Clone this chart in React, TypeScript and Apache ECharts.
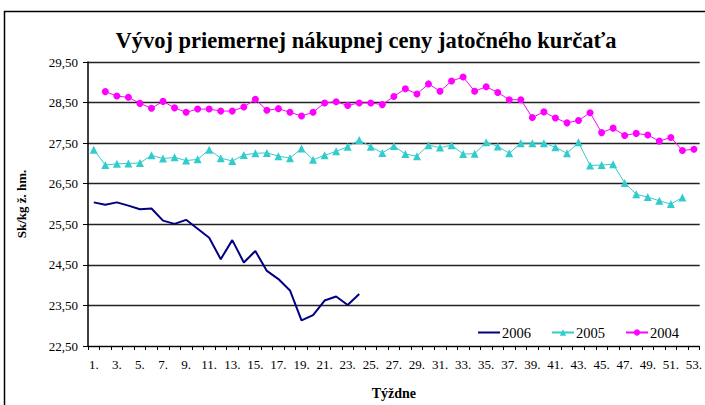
import React, { useEffect, useRef } from "react";
import * as echarts from "echarts";

const weeks = [
  "1.", "2.", "3.", "4.", "5.", "6.", "7.", "8.", "9.", "10.",
  "11.", "12.", "13.", "14.", "15.", "16.", "17.", "18.", "19.", "20.",
  "21.", "22.", "23.", "24.", "25.", "26.", "27.", "28.", "29.", "30.",
  "31.", "32.", "33.", "34.", "35.", "36.", "37.", "38.", "39.", "40.",
  "41.", "42.", "43.", "44.", "45.", "46.", "47.", "48.", "49.", "50.",
  "51.", "52.", "53.",
];

const y2006 = [
  26.04, 25.98, 26.04, 25.96, 25.87, 25.89, 25.59, 25.51, 25.61, 25.39,
  25.17, 24.64, 25.11, 24.56, 24.84, 24.35, 24.15, 23.87, 23.13, 23.26,
  23.62, 23.72, 23.51, 23.78,
];

const y2005 = [
  27.34, 26.96, 26.99, 27.0, 27.01, 27.2, 27.12, 27.15, 27.07, 27.1,
  27.34, 27.13, 27.06, 27.21, 27.25, 27.26, 27.18, 27.13, 27.37, 27.09,
  27.2, 27.3, 27.41, 27.58, 27.41, 27.26, 27.43, 27.23, 27.18, 27.45,
  27.39, 27.45, 27.23, 27.24, 27.52, 27.42, 27.25, 27.5, 27.5, 27.5,
  27.4, 27.25, 27.52, 26.95, 26.96, 26.98, 26.52, 26.24, 26.17, 26.08,
  26.0, 26.16,
];

const y2004 = [
  null, 28.77, 28.66, 28.63, 28.48, 28.36, 28.53, 28.37, 28.26, 28.34,
  28.34, 28.29, 28.29, 28.39, 28.58, 28.31, 28.35, 28.26, 28.17, 28.26,
  28.49, 28.52, 28.43, 28.49, 28.49, 28.45, 28.65, 28.84, 28.71, 28.96,
  28.78, 29.03, 29.13, 28.78, 28.89, 28.75, 28.57, 28.57, 28.13, 28.27,
  28.12, 28.0, 28.06, 28.25, 27.76, 27.87, 27.69, 27.74, 27.7, 27.55,
  27.64, 27.32, 27.35,
];

const FONT = "'Liberation Serif', 'Times New Roman', serif";

export default function App() {
  const ref = useRef<HTMLDivElement>(null);
  useEffect(() => {
    if (!ref.current) return;
    const chart = echarts.init(ref.current, null, { renderer: "svg" });
    chart.setOption({
      animation: false,
      backgroundColor: "#ffffff",
      textStyle: { fontFamily: FONT },
      title: {
        text: "Vývoj priemernej nákupnej ceny jatočného kurčaťa",
        left: 361,
        textAlign: "center",
        top: 24,
        textStyle: {
          fontFamily: FONT,
          fontSize: 22.5,
          fontWeight: "bold",
          color: "#000",
        },
      },
      graphic: [
        {
          type: "rect",
          shape: { x: 4.5, y: 11.5, width: 760, height: 460 },
          style: { fill: "none", stroke: "#000", lineWidth: 1.5 },
          silent: true,
        },
      ],
      legend: {
        left: 473,
        top: 320,
        itemWidth: 22,
        itemHeight: 8,
        itemGap: 20,
        data: [
          { name: "2006", icon: "path://M0 3 L22 3 L22 5 L0 5 Z" },
          { name: "2005" },
          { name: "2004" },
        ],
        textStyle: { fontFamily: FONT, fontSize: 14.5, color: "#000", padding: [0, 0, 0, -3] },
      },
      grid: { left: 88, top: 62, width: 618, height: 287, containLabel: false },
      xAxis: {
        type: "category",
        data: weeks,
        boundaryGap: true,
        name: "Týždne",
        nameLocation: "middle",
        nameGap: 40,
        nameTextStyle: { fontFamily: FONT, fontSize: 14, fontWeight: "bold", color: "#000" },
        axisLine: { show: true, lineStyle: { color: "#000", width: 1 } },
        axisTick: { show: true, interval: 0, length: 4, lineStyle: { color: "#000" } },
        axisLabel: {
          interval: 1,
          fontFamily: FONT,
          fontSize: 13,
          color: "#000",
          margin: 12,
        },
        splitLine: { show: false },
      },
      yAxis: {
        type: "value",
        min: 22.5,
        max: 29.5,
        interval: 1,
        name: "Sk/kg ž. hm.",
        nameLocation: "middle",
        nameGap: 60,
        nameTextStyle: { fontFamily: FONT, fontSize: 13, fontWeight: "bold", color: "#000" },
        axisLine: { show: true, lineStyle: { color: "#000", width: 1.5 } },
        axisTick: { show: true, length: 5, inside: false, lineStyle: { color: "#000" } },
        axisLabel: {
          fontFamily: FONT,
          fontSize: 13,
          color: "#000",
          margin: 10,
          formatter: (v: number) => v.toFixed(2).replace(".", ","),
        },
        splitLine: { show: true, lineStyle: { color: "#222", width: 1.3 } },
      },
      series: [
        {
          name: "2006",
          type: "line",
          data: y2006,
          symbol: "none",
          lineStyle: { color: "#000080", width: 2 },
          itemStyle: { color: "#000080" },
          z: 4,
        },
        {
          name: "2005",
          type: "line",
          data: y2005,
          symbol: "triangle",
          symbolSize: 8,
          showAllSymbol: true,
          lineStyle: { color: "#33CCCC", width: 1 },
          itemStyle: { color: "#33CCCC" },
          z: 3,
        },
        {
          name: "2004",
          type: "line",
          data: y2004,
          symbol: "circle",
          symbolSize: 7,
          showAllSymbol: true,
          connectNulls: false,
          lineStyle: { color: "#FF00FF", width: 1 },
          itemStyle: { color: "#FF00FF" },
          z: 2,
        },
      ],
    });
    return () => chart.dispose();
  }, []);
  return (
    <div
      ref={ref}
      style={{ position: "absolute", left: 0, top: 0, width: 705, height: 405, overflow: "hidden" }}
    />
  );
}
